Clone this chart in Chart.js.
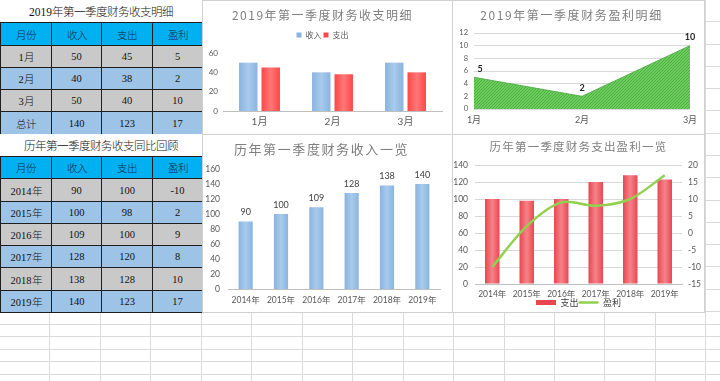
<!DOCTYPE html>
<html><head><meta charset="utf-8">
<script src="https://cdn.jsdelivr.net/npm/chart.js@4.4.1/dist/chart.umd.min.js"></script>
<style>
@font-face{font-family:'CJKLight';src:local('Noto Sans CJK SC Light'),local('NotoSansCJKsc-Light'),local('Noto Sans CJK SC DemiLight'),local('NotoSansCJKsc-DemiLight');}
html,body{margin:0;padding:0;background:#fff;}
body{width:720px;height:381px;overflow:hidden;position:relative;font-family:'Liberation Serif','CJKLight','Noto Sans CJK SC',serif;}
.gcols{position:absolute;left:0;top:0;width:720px;height:381px;background:repeating-linear-gradient(90deg,transparent 0,transparent 49.45px,#D9D9DE 49.45px,#D9D9DE 50.45px);}
.growsA{position:absolute;left:0;top:0;width:720px;height:312px;background:repeating-linear-gradient(180deg,transparent 0,transparent 21.29px,#D9D9DE 21.29px,#D9D9DE 22.29px);}
.growsB{position:absolute;left:0;top:312px;width:720px;height:69px;background:repeating-linear-gradient(180deg,transparent 0,transparent 11.6px,#D9D9DE 11.6px,#D9D9DE 12.6px);}
.cell{position:absolute;box-sizing:border-box;display:flex;align-items:center;justify-content:center;font-size:10.5px;color:#111;white-space:nowrap;}
.dark{border:1px solid #1E1E1E;}
.ttl{font-size:11.5px;color:#111;background:#fff;}
.hdr{background:#00B0F0;color:#0F2A4A;}
.g{background:#C9C9C9;}
.b{background:#9DC3E6;}
.chartbox{position:absolute;box-sizing:border-box;border:1px solid #D0D0D0;background:#fff;}
.chartbox canvas{position:absolute;left:0;top:0;}
</style>
</head>
<body>
<div class="gcols"></div><div class="growsA"></div><div class="growsB"></div>
<div id="tables"></div>
<div class="chartbox" style="left:202px;top:0px;width:251px;height:135px;"><canvas id="c1" width="249" height="133"></canvas></div>
<div class="chartbox" style="left:452px;top:0px;width:253px;height:135px;"><canvas id="c2" width="251" height="133"></canvas></div>
<div class="chartbox" style="left:202px;top:134px;width:251px;height:179px;"><canvas id="c3" width="249" height="177"></canvas></div>
<div class="chartbox" style="left:452px;top:134px;width:253px;height:179px;"><canvas id="c4" width="251" height="177"></canvas></div>
<script>
// ---------- data ----------
const tableHeader = ['月份', '收入', '支出', '盈利'];
const table1Title = '2019年第一季度财务收支明细';
const table2Title = '历年第一季度财务收支同比回顾';
const months = ['1月', '2月', '3月'];
const income2019 = [50, 40, 50];
const expense2019 = [45, 38, 40];
const profit2019 = [5, 2, 10];
const totalLabel = '总计';
const total2019 = [140, 123, 17];
const years = ['2014年', '2015年', '2016年', '2017年', '2018年', '2019年'];
const incomeHist = [90, 100, 109, 128, 138, 140];
const expenseHist = [100, 98, 100, 120, 128, 123];
const profitHist = [-10, 2, 9, 8, 10, 17];
const chartTitles = ['2019年第一季度财务收支明细', '2019年第一季度财务盈利明细', '历年第一季度财务收入一览', '历年第一季度财务支出盈利一览'];
const seriesNames = { income: '收入', expense: '支出', profit: '盈利' };
const axis1 = { min: 0, max: 60, step: 20 };
const axis2 = { min: 0, max: 12, step: 2 };
const axis3 = { min: 0, max: 160, step: 20 };
const axis4L = { min: 0, max: 140, step: 20 };
const axis4R = { min: -15, max: 20, step: 5 };

// ---------- tables ----------
const CX = [0, 51, 101, 152, 202];
const RH = 22.29;
const rowY = r => Math.round(r * RH);
const host = document.getElementById('tables');
function cell(text, c0, c1, r, cls) {
  const d = document.createElement('div');
  d.className = 'cell ' + cls;
  const dark = cls.indexOf('dark') >= 0 ? 1 : 0;
  d.style.left = CX[c0] + 'px';
  d.style.top = rowY(r) + 'px';
  d.style.width = (CX[c1] - CX[c0] + dark) + 'px';
  d.style.height = (rowY(r + 1) - rowY(r) + dark) + 'px';
  d.textContent = text;
  host.appendChild(d);
}
function row(vals, r, cls) { vals.forEach((v, i) => cell(String(v), i, i + 1, r, 'dark ' + cls)); }
cell(table1Title, 0, 4, 0, 'ttl');
row(tableHeader, 1, 'hdr');
months.forEach((m, i) => row([m, income2019[i], expense2019[i], profit2019[i]], 2 + i, i % 2 ? 'b' : 'g'));
row([totalLabel].concat(total2019), 5, 'b');
cell(table2Title, 0, 4, 6, 'ttl');
row(tableHeader, 7, 'hdr');
years.forEach((y, i) => row([y, incomeHist[i], expenseHist[i], profitHist[i]], 8 + i, i % 2 ? 'b' : 'g'));

// ---------- chart helpers ----------
Chart.defaults.font.family = "Lato, 'Noto Sans CJK SC', sans-serif";
Chart.defaults.color = '#595959';
const CJK = "'Noto Sans CJK SC', sans-serif";

function barGrad(edge, mid, nBars, k, catPct, barPct) {
  return function (ctx) {
    const chart = ctx.chart;
    const xs = chart.scales && chart.scales.x;
    if (!xs || ctx.type !== 'data' || !chart.chartArea) return edge;
    const n = chart.data.labels.length;
    const xc = xs.getPixelForValue(ctx.dataIndex);
    const cw = xs.width / n;
    if (!isFinite(xc) || !isFinite(cw) || cw <= 0) return edge;
    const group = cw * catPct, slot = group / nBars, bw = slot * barPct;
    const c = xc - group / 2 + slot * (k + 0.5);
    const g = chart.ctx.createLinearGradient(c - bw / 2, 0, c + bw / 2, 0);
    g.addColorStop(0, edge); g.addColorStop(0.5, mid); g.addColorStop(1, edge);
    return g;
  };
}
function hatch() {
  const c = document.createElement('canvas'); c.width = 3; c.height = 3;
  const x = c.getContext('2d');
  x.fillStyle = '#6ECB5E'; x.fillRect(0, 0, 3, 3);
  x.fillStyle = '#4CB042';
  for (let i = 0; i < 3; i++) x.fillRect(i, 2 - i, 1, 1);
  return x.createPattern(c, 'repeat');
}
const titleSpacing = {
  id: 'titleSpacing',
  beforeDraw(chart, args, o) {
    const tb = chart.titleBlock;
    if (tb && !tb.__sp) {
      const orig = tb.draw;
      tb.draw = function (...a) {
        const c = this.ctx; c.save();
        try { c.letterSpacing = (o.spacing || 0) + 'px'; } catch (e) {}
        orig.apply(this, a); c.restore();
      };
      tb.__sp = true;
    }
  }
};
const legendFit = {
  id: 'legendFit',
  beforeLayout(chart, args, o) {
    const lg = chart.legend;
    if (lg && !lg.__fit) {
      const orig = lg.fit;
      lg.fit = function () { orig.call(this); this.height += (o.extra || 0); };
      lg.__fit = true;
    }
  }
};
const valueLabels = {
  id: 'valueLabels',
  afterDatasetsDraw(chart, args, o) {
    if (!o || !o.show) return;
    const ctx = chart.ctx;
    const meta = chart.getDatasetMeta(o.datasetIndex);
    const data = chart.data.datasets[o.datasetIndex].data;
    ctx.save();
    ctx.font = o.font; ctx.fillStyle = o.color;
    ctx.textAlign = 'center'; ctx.textBaseline = 'bottom';
    meta.data.forEach((el, i) => {
      let x = el.x;
      if (o.minX != null) x = Math.max(x, chart.chartArea.left + o.minX);
      ctx.fillText(String(data[i]), x, el.y - o.offset);
    });
    ctx.restore();
  }
};
const titleOpts = (text, size, top, bottom) => ({
  display: true, text, color: '#7F7F7F',
  font: { size, weight: 'normal', family: CJK, lineHeight: 1.2 },
  padding: { top, bottom }
});

// ---------- chart 1 ----------
new Chart(document.getElementById('c1'), {
  type: 'bar',
  data: {
    labels: months,
    datasets: [
      { label: seriesNames.income, data: income2019, backgroundColor: barGrad('#8AB3DF', '#A8CBEC', 2, 0, 0.616, 0.82), borderWidth: 0 },
      { label: seriesNames.expense, data: expense2019, backgroundColor: barGrad('#FF4646', '#FF7878', 2, 1, 0.616, 0.82), borderWidth: 0 }
    ]
  },
  options: {
    responsive: false, animation: false,
    layout: { padding: { left: 0, right: 10, top: 0, bottom: 0 } },
    datasets: { bar: { categoryPercentage: 0.616, barPercentage: 0.82 } },
    plugins: {
      title: titleOpts(chartTitles[0], 12, 6.8, 6.8),
      titleSpacing: { spacing: 1.5 },
      legend: { display: true, position: 'top', labels: { boxWidth: 5, boxHeight: 5, padding: 2, color: '#595959', font: { size: 8, family: CJK } } },
      legendFit: { extra: 4 },
      tooltip: { enabled: false }
    },
    scales: {
      x: { grid: { display: false, drawTicks: false }, border: { display: true, color: '#BFBFBF' },
           ticks: { padding: 5, font: { size: 10 } }, afterFit(s) { s.height = 23; } },
      y: { min: axis1.min, max: axis1.max, ticks: { stepSize: axis1.step, padding: 5, font: { size: 8 } },
           grid: { display: false, drawTicks: false }, border: { display: false }, afterFit(s) { s.width = 20; } }
    }
  },
  plugins: [titleSpacing, legendFit]
});

// ---------- chart 2 ----------
new Chart(document.getElementById('c2'), {
  type: 'line',
  data: {
    labels: months,
    datasets: [{ label: seriesNames.profit, data: profit2019, fill: 'origin', backgroundColor: hatch(), borderColor: '#56B34B', borderWidth: 1, pointRadius: 0, tension: 0 }]
  },
  options: {
    responsive: false, animation: false,
    layout: { padding: { left: 0, right: 14, top: 0, bottom: 0 } },
    plugins: {
      title: titleOpts(chartTitles[1], 12, 6.8, 10.8),
      titleSpacing: { spacing: 1.6 },
      legend: { display: false },
      tooltip: { enabled: false },
      valueLabels: { show: true, datasetIndex: 0, font: "bold 9px Lato, 'Noto Sans CJK SC'", color: '#262626', offset: 4, minX: 6 }
    },
    scales: {
      x: { offset: false, grid: { display: false, drawTicks: false }, border: { display: false },
           ticks: { padding: 5.6, font: { size: 9 } }, afterFit(s) { s.height = 25; } },
      y: { min: axis2.min, max: axis2.max, ticks: { stepSize: axis2.step, padding: 6, font: { size: 7.5 } },
           grid: { color: '#D9D9D9', drawTicks: false }, border: { display: false }, afterFit(s) { s.width = 21; } }
    }
  },
  plugins: [titleSpacing, valueLabels]
});

// ---------- chart 3 ----------
new Chart(document.getElementById('c3'), {
  type: 'bar',
  data: {
    labels: years,
    datasets: [{ label: seriesNames.income, data: incomeHist, backgroundColor: barGrad('#8AB3DF', '#A8CBEC', 1, 0, 1, 0.4), borderWidth: 0 }]
  },
  options: {
    responsive: false, animation: false,
    layout: { padding: { left: 0, right: 12, top: 0, bottom: 0 } },
    datasets: { bar: { categoryPercentage: 1, barPercentage: 0.4 } },
    plugins: {
      title: titleOpts(chartTitles[2], 13, 6.5, 11.9),
      titleSpacing: { spacing: 1.6 },
      legend: { display: false },
      tooltip: { enabled: false },
      valueLabels: { show: true, datasetIndex: 0, font: "9px Lato, 'Noto Sans CJK SC'", color: '#404040', offset: 4.5 }
    },
    scales: {
      x: { grid: { display: false, drawTicks: false }, border: { display: true, color: '#BFBFBF' },
           ticks: { padding: 5.9, font: { size: 8.5 } }, afterFit(s) { s.height = 23; } },
      y: { min: axis3.min, max: axis3.max, ticks: { stepSize: axis3.step, padding: 8, font: { size: 8.5 } },
           grid: { display: false, drawTicks: false }, border: { display: false }, afterFit(s) { s.width = 25; } }
    }
  },
  plugins: [titleSpacing, valueLabels]
});

// ---------- chart 4 ----------
new Chart(document.getElementById('c4'), {
  data: {
    labels: years,
    datasets: [
      { type: 'bar', label: seriesNames.expense, data: expenseHist, yAxisID: 'y', order: 1,
        backgroundColor: barGrad('#EA4650', '#F5838A', 1, 0, 1, 0.42), borderWidth: 0, pointStyle: 'rect' },
      { type: 'line', label: seriesNames.profit, data: profitHist, yAxisID: 'y1', order: 0,
        borderColor: '#92D050', backgroundColor: '#92D050', borderWidth: 2.5, pointRadius: 0, tension: 0.3, pointStyle: 'line' }
    ]
  },
  options: {
    responsive: false, animation: false,
    layout: { padding: { left: 0, right: 0, top: 0, bottom: 0 } },
    datasets: { bar: { categoryPercentage: 1, barPercentage: 0.42 } },
    plugins: {
      title: titleOpts(chartTitles[3], 11.5, 5.1, 11.1),
      titleSpacing: { spacing: 1.2 },
      legend: { display: true, position: 'bottom',
        labels: { usePointStyle: true, pointStyleWidth: 20, boxHeight: 5, padding: 0, color: '#404040',
                  font: { size: 9, family: CJK }, sort: (a, b) => a.datasetIndex - b.datasetIndex } },
      legendFit: { extra: -5 },
      tooltip: { enabled: false }
    },
    scales: {
      x: { grid: { display: false, drawTicks: false }, border: { display: true, color: '#BFBFBF' },
           ticks: { padding: 4.9, font: { size: 8.5 } }, afterFit(s) { s.height = 14; } },
      y: { position: 'left', min: axis4L.min, max: axis4L.max, ticks: { stepSize: axis4L.step, padding: 7, font: { size: 8.5 } },
           grid: { color: '#D9D9D9', drawTicks: false }, border: { display: false }, afterFit(s) { s.width = 22; } },
      y1: { position: 'right', min: axis4R.min, max: axis4R.max, ticks: { stepSize: axis4R.step, padding: 6, font: { size: 8.5 } },
            grid: { drawOnChartArea: false, drawTicks: false }, border: { display: false }, afterFit(s) { s.width = 22; } }
    }
  },
  plugins: [titleSpacing, legendFit]
});
</script>
</body></html>
